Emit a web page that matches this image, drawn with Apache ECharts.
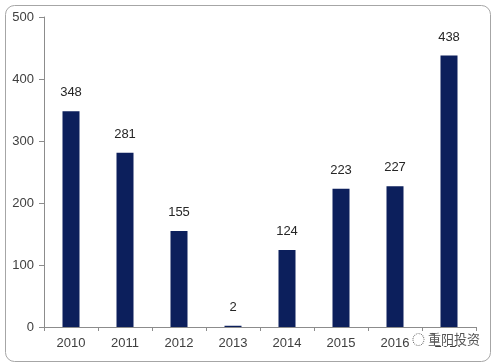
<!DOCTYPE html>
<html><head><meta charset="utf-8">
<script src="https://cdn.jsdelivr.net/npm/echarts@6/dist/echarts.min.js"></script>
<style>html,body{margin:0;padding:0;background:#fff}#c{width:492px;height:363px}</style>
</head><body><div id="c"></div>
<script>
var categories = ['2010','2011','2012','2013','2014','2015','2016','2017'];
var values = [348, 281, 155, 2, 124, 223, 227, 438];
var yTicks = [0, 100, 200, 300, 400, 500];

var chart = echarts.init(document.getElementById('c'));
chart.setOption({
  animation: false,
  grid: {left: 44, right: 16, top: 17, bottom: 36},
  xAxis: {
    type: 'category', data: categories,
    axisLine: {lineStyle: {color: '#8c8c8c', width: 1}},
    axisTick: {show: true, length: 4, lineStyle: {color: '#8c8c8c'}},
    axisLabel: {color: '#404040', fontSize: 13, fontFamily: 'Liberation Sans, Arial', margin: 10}
  },
  yAxis: {
    type: 'value', min: yTicks[0], max: yTicks[yTicks.length-1], interval: 100,
    axisLine: {show: true, lineStyle: {color: '#8c8c8c', width: 1}},
    axisTick: {show: true, length: 5, lineStyle: {color: '#8c8c8c'}},
    splitLine: {show: false},
    axisLabel: {color: '#404040', fontSize: 13, fontFamily: 'Liberation Sans, Arial', margin: 10}
  },
  series: [{
    type: 'bar', data: values, barWidth: 17,
    itemStyle: {color: '#0c1f5c'},
    label: {show: true, position: 'top', distance: 12, color: '#262626', fontSize: 13, fontFamily: 'Liberation Sans, Arial'}
  }],
  graphic: [
    {type: 'rect', left: 3, top: 3, shape: {width: 485, height: 356, r: 9}, style: {fill: 'none', stroke: '#a6a6a6', lineWidth: 1}, z: 10},
    {type: 'text', left: 410, top: 333, style: {text: '◌ 重阳投资 ', fill: '#555', font: '13px "Noto Sans CJK SC"', backgroundColor: '#fff', padding: [0, 2, 0, 2]}, z: 20}
  ]
});
</script></body></html>
